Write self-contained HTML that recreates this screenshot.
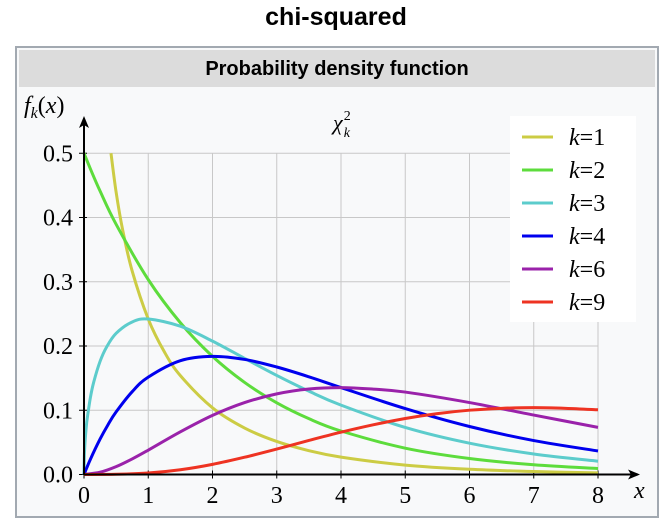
<!DOCTYPE html>
<html><head><meta charset="utf-8"><style>
body{margin:0;width:672px;height:518px;background:#fff;overflow:hidden;font-family:"Liberation Sans",sans-serif}
#title{position:absolute;left:0;width:672px;top:3px;text-align:center;font-weight:bold;font-size:25px}
#frame{position:absolute;left:15px;top:46px;width:640px;height:468px;border:2px solid #a2a9b1;background:#f8f9fa}
#hdr{position:absolute;left:2px;top:2px;right:2px;height:37px;background:#dcdcdc;text-align:center;font-weight:bold;font-size:20px;line-height:39px}
svg{position:absolute;left:0;top:0}
</style></head><body>
<div id="title">chi-squared</div>
<div id="frame"><div id="hdr">Probability density function</div></div>
<svg id="c" width="672" height="518"></svg>
<script>
const xTicks=[0,1,2,3,4,5,6,7,8];
const yTicks=[0,0.1,0.2,0.3,0.4,0.5];
const yTickLabels=["0.0","0.1","0.2","0.3","0.4","0.5"];
const seriesNames=["k=1","k=2","k=3","k=4","k=6","k=9"];
const colors=["#cccc44","#5ddc3c","#5ccccc","#0000ee","#9a22aa","#ee3322"];
const xs1=[0.42,0.5,0.6,0.75,1,1.25,1.5,2,2.5,3,3.5,4,5,6,7,8];
const ys1=[0.5,0.4394,0.3815,0.3166,0.2420,0.1910,0.1539,0.1038,0.0723,0.0514,0.0371,0.0270,0.0146,0.0081,0.0046,0.0026];
const xs2=[0,0.1,0.25,0.5,1,1.5,2,2.5,3,3.5,4,5,6,7,8];
const ys2=[0.5,0.4756,0.4412,0.3894,0.3033,0.2362,0.1839,0.1433,0.1116,0.0869,0.0677,0.0410,0.0249,0.0151,0.0092];
const xs3=[0,0.005,0.01,0.02,0.035,0.05,0.1,0.15,0.25,0.35,0.5,0.75,1,1.5,2,2.5,3,3.5,4,5,6,7,8];
const ys3=[0,0.0281,0.0397,0.0559,0.0737,0.0870,0.1200,0.1433,0.1760,0.1981,0.2197,0.2374,0.2420,0.2308,0.2076,0.1807,0.1542,0.1297,0.1080,0.0732,0.0487,0.0319,0.0207];
const xs4=[0,0.1,0.25,0.375,0.5,0.75,1,1.5,2,2.5,3,3.5,4,5,6,7,8];
const ys4=[0,0.0238,0.0551,0.0777,0.0974,0.1289,0.1516,0.1772,0.1839,0.1791,0.1673,0.1521,0.1353,0.1026,0.0747,0.0528,0.0366];
const xs6=[0,0.25,0.5,0.75,1,1.5,2,2.5,3,3.5,4,4.5,5,6,7,8];
const ys6=[0,0.0035,0.0122,0.0242,0.0379,0.0664,0.0920,0.1119,0.1255,0.1331,0.1353,0.1329,0.1283,0.1120,0.0925,0.0733];
const xs9=[0,0.5,1,1.5,2,2.5,3,3.5,4,4.5,5,5.5,6,6.5,7,7.5,8];
const ys9=[0,0.0003,0.0023,0.0074,0.0158,0.0269,0.0396,0.0530,0.0658,0.0773,0.0872,0.0948,0.1001,0.1030,0.1041,0.1030,0.1007];
const seriesX=[xs1,xs2,xs3,xs4,xs6,xs9];
const seriesY=[ys1,ys2,ys3,ys4,ys6,ys9];

const NS="http://www.w3.org/2000/svg";
const svg=document.getElementById('c');
const X=v=>84+v*64.25, Y=v=>474.5-v*642.5;
function mk(t,a,p){const e=document.createElementNS(NS,t);for(const k in a)e.setAttribute(k,a[k]);(p||svg).appendChild(e);return e;}
const serif='"Liberation Serif",serif';
xTicks.forEach(t=>{if(t>0){const l=mk('line',{x1:X(t),x2:X(t),y1:Y(0.5),y2:Y(0),stroke:'#c8c8c8','stroke-width':1});

}});
yTicks.forEach(t=>{if(t>0){const l=mk('line',{x1:X(0),x2:X(8),y1:Y(t),y2:Y(t),stroke:'#c8c8c8','stroke-width':1});

}});
xTicks.forEach(t=>{mk('line',{x1:X(t),x2:X(t),y1:Y(0)-4,y2:Y(0)+4,stroke:'#000','stroke-width':1});
const tx=mk('text',{x:X(t),y:503,'text-anchor':'middle','font-size':24,'font-family':serif});tx.textContent=t;

});
yTicks.forEach((t,i)=>{mk('line',{x1:X(0)-5,x2:X(0)+3,y1:Y(t),y2:Y(t),stroke:'#000','stroke-width':1});
const tx=mk('text',{x:73,y:Y(t)+8,'text-anchor':'end','font-size':24,'font-family':serif});tx.textContent=yTickLabels[i];

});
function path(xs,ys){const p=xs.map((x,i)=>[X(x),Y(ys[i])]);let d='M'+p[0][0]+','+p[0][1];
for(let i=0;i<p.length-1;i++){const p0=p[Math.max(0,i-1)],p1=p[i],p2=p[i+1],p3=p[Math.min(p.length-1,i+2)];
d+=' C'+(p1[0]+(p2[0]-p0[0])/6)+','+(p1[1]+(p2[1]-p0[1])/6)+' '+(p2[0]-(p3[0]-p1[0])/6)+','+(p2[1]-(p3[1]-p1[1])/6)+' '+p2[0]+','+p2[1];}return d;}
seriesX.forEach((xs,i)=>{const c=mk('path',{d:path(xs,seriesY[i]),fill:'none',stroke:colors[i],'stroke-width':3,'stroke-linejoin':'round'});

});
const ax=mk('path',{d:`M${X(0)},${Y(0)} H638 M${X(0)},${Y(0)} V120`,stroke:'#000','stroke-width':2,fill:'none'});


mk('path',{d:`M640,${Y(0)} l-12,-5 l3,5 l-3,5z M${X(0)},116 l-5,12 l5,-3 l5,3z`,fill:'#000'});
const xl=mk('text',{x:634,y:498,'font-size':24,'font-style':'italic','font-family':serif});xl.textContent='x';


const yl=mk('text',{x:24,y:113,'font-size':24,'font-family':serif});yl.innerHTML='<tspan font-style="italic">f</tspan><tspan font-size="16" font-style="italic" dy="5">k</tspan><tspan dy="-5">(</tspan><tspan font-style="italic">x</tspan>)';


const st=mk('text',{x:333,y:130,'font-size':22,'font-family':serif});st.innerHTML='<tspan font-style="italic">χ</tspan><tspan font-size="14" dx="1" dy="-10">2</tspan><tspan font-size="14" font-style="italic" dx="-7" dy="17">k</tspan>';


const lg=mk('rect',{x:510,y:116,width:126,height:206,fill:'#fff'});


seriesNames.forEach((n,i)=>{const y=137+i*33;
const g=mk('g',{});


mk('line',{x1:522,x2:553,y1:y,y2:y,stroke:colors[i],'stroke-width':3},g);
const t=mk('text',{x:569,y:y+8,'font-size':24,'font-family':serif},g);
t.innerHTML='<tspan font-style="italic">k</tspan>='+n.split('=')[1];});
</script>
</body></html>
